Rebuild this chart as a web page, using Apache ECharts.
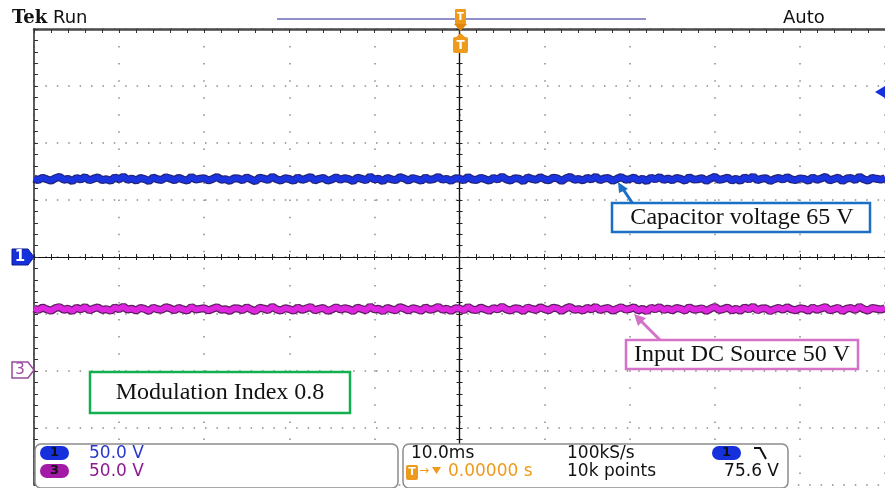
<!DOCTYPE html>
<html>
<head>
<meta charset="utf-8">
<script src="https://cdn.jsdelivr.net/npm/echarts@6/dist/echarts.min.js"></script>
<style>
  html, body { margin: 0; padding: 0; background: #fff; }
  #chart { width: 885px; height: 488px; }
</style>
</head>
<body>
<div id="chart"></div>
<script>
// scope settings
var voltsPerDiv = 50;      // both channels 50.0 V/div
var msPerDiv = 10;         // 10.0 ms/div
var ch1Ground = 0;         // ch1 marker at centre line (divisions)
var ch3Ground = -2;        // ch3 marker two divisions below centre

// channel 1 : capacitor voltage (V)
var ch1 = [68.9, 67.4, 69.6, 68.2, 66.9, 69.1, 70.3, 67.8, 68.5, 66.6, 69.4, 68.0, 70.1, 67.2, 68.7, 69.8, 67.5, 68.3, 66.8, 69.9,
  68.1, 70.6, 67.7, 68.9, 67.0, 69.3, 68.4, 66.5, 69.7, 68.2, 67.6, 70.0, 68.8, 67.3, 69.5, 68.0, 66.9, 70.4, 67.9, 68.6,
  69.2, 67.1, 68.5, 70.2, 67.8, 68.3, 66.7, 69.0, 68.9, 67.4, 69.8, 68.1, 66.4, 69.6, 68.7, 67.5, 70.5, 68.2, 67.0, 69.1,
  68.4, 66.8, 69.9, 67.6, 68.8, 70.3, 67.2, 68.6, 69.4, 66.9, 68.0, 70.0, 67.7, 69.2, 68.3, 66.6, 69.7, 68.5, 67.3, 70.7,
  67.9, 68.7, 66.5, 69.5, 68.1, 67.4, 70.1, 68.9, 67.0, 69.3, 68.2, 66.8, 69.8, 67.6, 68.4, 70.4, 67.8, 68.6, 66.7, 69.0,
  68.8, 67.2, 70.2, 68.0, 67.5, 69.6, 68.3, 66.9, 69.4, 67.9, 70.6, 68.1, 67.0, 69.2, 68.7, 66.4, 69.9, 68.5, 67.6, 70.0,
  68.2, 67.3, 69.7, 68.9, 66.6, 69.1, 70.3, 67.7, 68.4, 67.1, 69.5, 68.0, 70.5, 67.4, 68.8, 69.3, 66.8, 68.6, 70.1, 67.8,
  68.3, 69.8, 67.0, 68.7, 66.5, 69.6, 68.1, 70.2, 67.5, 68.9, 67.2, 69.4, 68.5, 66.9, 70.0, 67.9, 68.2, 69.1, 66.7, 68.8,
  70.4, 67.6, 68.4, 69.7, 67.1, 68.6, 66.8, 69.9, 68.0, 70.7, 67.3, 68.7, 69.2, 66.6, 68.3, 69.5, 67.8, 70.1, 68.1, 67.4,
  69.0, 68.5, 66.9, 69.8, 67.7, 68.9, 70.3, 67.2, 68.4, 69.6, 66.5, 68.8, 69.3, 67.5, 70.5, 68.2, 67.0, 69.4, 68.6, 67.9, 69.1];

// channel 3 : input DC source (V)
var ch3 = [54.9, 53.4, 55.7, 54.1, 52.8, 55.2, 56.1, 53.7, 54.6, 52.5, 55.5, 54.0, 56.3, 53.1, 54.8, 55.9, 53.5, 54.3, 52.7, 55.8,
  54.2, 56.5, 53.8, 54.7, 53.0, 55.3, 54.4, 52.6, 55.6, 54.1, 53.6, 56.0, 54.9, 53.2, 55.4, 54.0, 52.9, 56.2, 53.9, 54.5,
  55.1, 53.0, 54.6, 56.0, 53.7, 54.2, 52.6, 55.0, 54.8, 53.3, 55.9, 54.0, 52.4, 55.5, 54.7, 53.4, 56.4, 54.1, 53.0, 55.2,
  54.3, 52.8, 55.8, 53.5, 54.9, 56.2, 53.1, 54.5, 55.3, 52.7, 54.0, 56.0, 53.8, 55.1, 54.2, 52.5, 55.6, 54.4, 53.2, 56.6,
  53.9, 54.6, 52.4, 55.4, 54.1, 53.3, 56.1, 54.8, 53.0, 55.2, 54.3, 52.7, 55.9, 53.6, 54.5, 56.3, 53.7, 54.7, 52.6, 55.0,
  54.8, 53.1, 56.2, 54.0, 53.4, 55.7, 54.2, 52.8, 55.3, 53.9, 56.5, 54.1, 53.0, 55.1, 54.6, 52.5, 55.8, 54.4, 53.5, 56.0,
  54.2, 53.2, 55.6, 54.9, 52.6, 55.0, 56.2, 53.6, 54.3, 53.0, 55.4, 54.0, 56.4, 53.3, 54.7, 55.2, 52.8, 54.5, 56.0, 53.8,
  54.4, 55.9, 53.0, 54.6, 52.4, 55.5, 54.1, 56.1, 53.4, 54.8, 53.1, 55.3, 54.5, 52.9, 56.0, 53.8, 54.2, 55.0, 52.6, 54.7,
  56.3, 53.5, 54.3, 55.7, 53.0, 54.6, 52.7, 55.8, 54.0, 56.6, 53.2, 54.8, 55.1, 52.5, 54.2, 55.4, 53.7, 56.0, 54.1, 53.3,
  55.0, 54.5, 52.8, 55.7, 53.6, 54.9, 56.2, 53.1, 54.3, 55.5, 52.4, 54.7, 55.2, 53.4, 56.4, 54.2, 53.0, 55.3, 54.6, 53.8, 55.1];

function toTrace(values, ground) {
  var span = 10 * msPerDiv;
  return values.map(function (v, i) {
    return [-span / 2 + i * span / (values.length - 1), v / voltsPerDiv + ground];
  });
}

var uiFont = '"DejaVu Sans", sans-serif';
var serif = '"Liberation Serif", "Times New Roman", serif';
var orange = '#ee9a1c';
var blue = '#1630dc';
var purple = '#a21aa6';

function centerAxis(dim, inside) {
  return {
    type: 'value',
    min: dim === 'x' ? -5 * msPerDiv : -4,
    max: dim === 'x' ? 5 * msPerDiv : 4,
    interval: dim === 'x' ? msPerDiv : 1,
    position: dim === 'x' ? 'bottom' : 'left',
    axisLine: { show: true, onZero: true, lineStyle: { color: '#111', width: 1.2 } },
    axisTick: { show: true, inside: inside, length: 3, lineStyle: { color: '#222', width: 1 } },
    minorTick: { show: true, splitNumber: 5, length: 3, lineStyle: { color: '#222', width: 1 } },
    axisLabel: { show: false },
    splitLine: { show: false }
  };
}

var xMain = centerAxis('x', false);
xMain.splitLine = { show: true, lineStyle: { color: '#8a8a8a', width: 1.5, type: [1.5, 15.56] } };
var yMain = centerAxis('y', false);
yMain.splitLine = { show: true, lineStyle: { color: '#8a8a8a', width: 1.5, type: [1.5, 9.9] } };

var chart = echarts.init(document.getElementById('chart'));

var option = {
  animation: false,
  backgroundColor: '#fff',
  grid: { left: 34, top: 29, width: 853, height: 456, containLabel: false },
  xAxis: [
    xMain,
    centerAxis('x', true),
    {
      type: 'value', min: -50, max: 50, interval: 10, position: 'top',
      axisLine: { show: true, onZero: false, lineStyle: { color: '#4a4a4a', width: 2.5 } },
      axisTick: { show: true, inside: true, length: 4, lineStyle: { color: '#333' } },
      minorTick: { show: true, splitNumber: 5, length: 4, lineStyle: { color: '#333' } },
      axisLabel: { show: false }, splitLine: { show: false }
    }
  ],
  yAxis: [
    yMain,
    centerAxis('y', true),
    {
      type: 'value', min: -4, max: 4, interval: 1, position: 'left',
      axisLine: { show: true, onZero: false, lineStyle: { color: '#333', width: 1.6 } },
      axisTick: { show: true, inside: true, length: 4, lineStyle: { color: '#333' } },
      minorTick: { show: true, splitNumber: 5, length: 4, lineStyle: { color: '#333' } },
      axisLabel: { show: false }, splitLine: { show: false }
    }
  ],
  series: [
    { name: 'ch1 edge', type: 'line', data: toTrace(ch1, ch1Ground), showSymbol: false, silent: true,
      lineStyle: { color: '#22247a', width: 8 }, z: 3 },
    { name: 'ch1', type: 'line', data: toTrace(ch1, ch1Ground), showSymbol: false, silent: true,
      lineStyle: { color: '#1a34e0', width: 5.5 }, z: 4 },
    { name: 'ch3 edge', type: 'line', data: toTrace(ch3, ch3Ground), showSymbol: false, silent: true,
      lineStyle: { color: '#5c1e60', width: 8 }, z: 3 },
    { name: 'ch3', type: 'line', data: toTrace(ch3, ch3Ground), showSymbol: false, silent: true,
      lineStyle: { color: '#de26de', width: 5.5 }, z: 4 }
  ],
  graphic: [
    // header
    { type: 'text', x: 12, y: 18, z: 100, style: { text: 'Tek', fill: '#111', font: 'bold 18px "DejaVu Serif", serif', textVerticalAlign: 'middle' } },
    { type: 'text', x: 53, y: 18, z: 100, style: { text: 'Run', fill: '#111', font: '18px ' + uiFont, textVerticalAlign: 'middle' } },
    { type: 'text', x: 783, y: 18, z: 100, style: { text: 'Auto', fill: '#111', font: '18px ' + uiFont, textVerticalAlign: 'middle' } },
    // trigger position bar
    { type: 'line', z: 100, shape: { x1: 277, y1: 19, x2: 646, y2: 19 }, style: { stroke: '#6a6ab8', lineWidth: 1.5 } },
    { type: 'rect', z: 101, shape: { x: 455, y: 9, width: 11, height: 16, r: 1 }, style: { fill: orange } },
    { type: 'polygon', z: 101, shape: { points: [[454, 24], [467, 24], [460.5, 31]] }, style: { fill: '#e0860c' } },
    { type: 'text', z: 102, x: 460.5, y: 17, style: { text: 'T', fill: '#fff', font: 'bold 10px ' + uiFont, textAlign: 'center', textVerticalAlign: 'middle' } },
    { type: 'polygon', z: 101, shape: { points: [[455, 38], [466, 38], [460.5, 33]] }, style: { fill: orange } },
    { type: 'rect', z: 101, shape: { x: 453, y: 37, width: 15, height: 16, r: 2 }, style: { fill: orange } },
    { type: 'text', z: 102, x: 460.5, y: 45.5, style: { text: 'T', fill: '#fff', font: 'bold 12px ' + uiFont, textAlign: 'center', textVerticalAlign: 'middle' } },
    // trigger level arrow
    { type: 'polygon', z: 100, shape: { points: [[875, 92], [885, 86], [885, 98]] }, style: { fill: blue } },
    // channel ground markers
    { type: 'polygon', z: 100, shape: { points: [[12, 249], [28, 249], [34, 257], [28, 265], [12, 265]] }, style: { fill: blue, stroke: '#0c1c8c', lineWidth: 1 } },
    { type: 'text', z: 101, x: 20, y: 257, style: { text: '1', fill: '#fff', font: 'bold 15px ' + uiFont, textAlign: 'center', textVerticalAlign: 'middle' } },
    { type: 'polygon', z: 100, shape: { points: [[12, 362], [28, 362], [34, 370], [28, 378], [12, 378]] }, style: { fill: '#fff', stroke: '#9a4aa0', lineWidth: 1.5 } },
    { type: 'text', z: 101, x: 20, y: 370, style: { text: '3', fill: '#9a4aa0', font: '15px ' + uiFont, textAlign: 'center', textVerticalAlign: 'middle' } },
    // annotations
    { type: 'line', z: 100, shape: { x1: 633, y1: 204, x2: 623, y2: 189 }, style: { stroke: '#1b6fc4', lineWidth: 3 } },
    { type: 'polygon', z: 100, shape: { points: [[618, 182], [628, 189], [619, 193]] }, style: { fill: '#1b6fc4' } },
    { type: 'rect', z: 100, shape: { x: 612, y: 203, width: 258, height: 29 }, style: { fill: '#fff', stroke: '#1b6fc4', lineWidth: 2.5 } },
    { type: 'text', z: 101, x: 742, y: 218, style: { text: 'Capacitor voltage 65 V', fill: '#111', font: '24px ' + serif, textAlign: 'center', textVerticalAlign: 'middle' } },
    { type: 'line', z: 100, shape: { x1: 660, y1: 340, x2: 641, y2: 321 }, style: { stroke: '#d472c8', lineWidth: 3 } },
    { type: 'polygon', z: 100, shape: { points: [[634, 314], [646, 318], [638, 326]] }, style: { fill: '#d472c8' } },
    { type: 'rect', z: 100, shape: { x: 626, y: 340, width: 232, height: 29 }, style: { fill: '#fff', stroke: '#d472c8', lineWidth: 2.5 } },
    { type: 'text', z: 101, x: 742, y: 355, style: { text: 'Input DC Source 50 V', fill: '#111', font: '24px ' + serif, textAlign: 'center', textVerticalAlign: 'middle' } },
    { type: 'rect', z: 100, shape: { x: 90, y: 372, width: 260, height: 41 }, style: { fill: '#fff', stroke: '#12b050', lineWidth: 2.5 } },
    { type: 'text', z: 101, x: 220, y: 393, style: { text: 'Modulation Index 0.8', fill: '#111', font: '24px ' + serif, textAlign: 'center', textVerticalAlign: 'middle' } },
    // status bar, left box
    { type: 'rect', z: 100, shape: { x: 35, y: 444, width: 363, height: 44, r: 6 }, style: { fill: '#fff', stroke: '#8c8c8c', lineWidth: 1.5 } },
    { type: 'rect', z: 101, shape: { x: 40, y: 446, width: 29, height: 14, r: 7 }, style: { fill: blue } },
    { type: 'text', z: 102, x: 54.5, y: 453, style: { text: '1', fill: '#111', font: 'bold 13px ' + uiFont, textAlign: 'center', textVerticalAlign: 'middle' } },
    { type: 'rect', z: 101, shape: { x: 40, y: 464, width: 29, height: 14, r: 7 }, style: { fill: purple } },
    { type: 'text', z: 102, x: 54.5, y: 471, style: { text: '3', fill: '#111', font: 'bold 13px ' + uiFont, textAlign: 'center', textVerticalAlign: 'middle' } },
    { type: 'text', z: 101, x: 89, y: 454, style: { text: '50.0 V', fill: '#2a38cc', font: '17px ' + uiFont, textVerticalAlign: 'middle' } },
    { type: 'text', z: 101, x: 89, y: 472, style: { text: '50.0 V', fill: '#8e1a90', font: '17px ' + uiFont, textVerticalAlign: 'middle' } },
    // status bar, right box
    { type: 'rect', z: 100, shape: { x: 403, y: 444, width: 385, height: 44, r: 6 }, style: { fill: '#fff', stroke: '#8c8c8c', lineWidth: 1.5 } },
    { type: 'text', z: 101, x: 411, y: 454, style: { text: '10.0ms', fill: '#111', font: '17px ' + uiFont, textVerticalAlign: 'middle' } },
    { type: 'text', z: 101, x: 567, y: 454, style: { text: '100kS/s', fill: '#111', font: '17px ' + uiFont, textVerticalAlign: 'middle' } },
    { type: 'rect', z: 101, shape: { x: 712, y: 446, width: 29, height: 14, r: 7 }, style: { fill: blue } },
    { type: 'text', z: 102, x: 726.5, y: 453, style: { text: '1', fill: '#111', font: 'bold 13px ' + uiFont, textAlign: 'center', textVerticalAlign: 'middle' } },
    { type: 'polyline', z: 101, shape: { points: [[754, 448], [760, 448], [766, 459]] }, style: { stroke: '#111', lineWidth: 2, fill: null } },
    { type: 'rect', z: 101, shape: { x: 406, y: 465, width: 12, height: 15, r: 2 }, style: { fill: orange } },
    { type: 'text', z: 102, x: 412, y: 472.5, style: { text: 'T', fill: '#fff', font: 'bold 11px ' + uiFont, textAlign: 'center', textVerticalAlign: 'middle' } },
    { type: 'text', z: 101, x: 419, y: 471, style: { text: '\u2192', fill: orange, font: '12px ' + uiFont, textVerticalAlign: 'middle' } },
    { type: 'polygon', z: 101, shape: { points: [[432, 467], [441, 467], [436.5, 474]] }, style: { fill: orange } },
    { type: 'text', z: 101, x: 448, y: 472, style: { text: '0.00000 s', fill: orange, font: '17px ' + uiFont, textVerticalAlign: 'middle' } },
    { type: 'text', z: 101, x: 567, y: 472, style: { text: '10k points', fill: '#111', font: '17px ' + uiFont, textVerticalAlign: 'middle' } },
    { type: 'text', z: 101, x: 779, y: 472, style: { text: '75.6 V', fill: '#111', font: '17px ' + uiFont, textAlign: 'right', textVerticalAlign: 'middle' } }
  ]
};

chart.setOption(option);
</script>
</body>
</html>
